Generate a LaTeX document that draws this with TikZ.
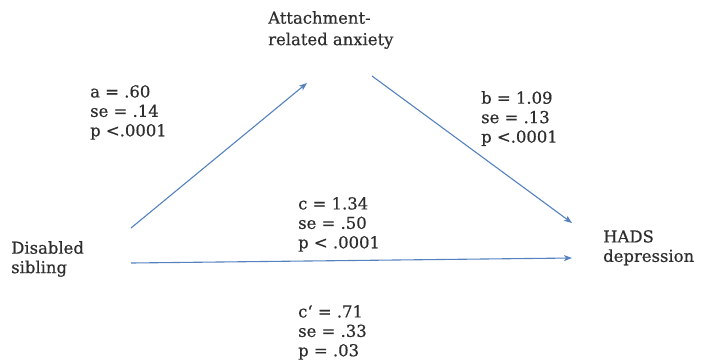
\documentclass[tikz,border=0pt]{standalone}
\usepackage{fontspec}
\setmainfont{DejaVu Serif}[FakeBold=0.6]
\usetikzlibrary{arrows.meta}
\definecolor{arrowblue}{RGB}{84,130,190}
\begin{document}
\begin{tikzpicture}[x=1bp,y=-1bp,
  lbl/.style={anchor=north west,align=left,inner sep=0pt,font=\fontsize{16.5}{19.5}\selectfont,text=black!82},
  conn/.style={draw=arrowblue,line width=1.1bp,-{Stealth[length=8bp,width=6bp,inset=2bp]}}]
\useasboundingbox (0,0) rectangle (701,361);
\node[lbl,font=\fontsize{16.5}{21.5}\selectfont] (att) at (268,11) {Attachment-\\related anxiety};
\node[lbl] (dis) at (11,241) {Disabled\\sibling};
\node[lbl] (hads) at (603,230) {HADS\\depression};
\node[lbl] (la) at (90,85) {a = .60\\se = .14\\p <.0001};
\node[lbl] (lb) at (481,91) {b = 1.09\\se = .13\\p <.0001};
\node[lbl] (lc) at (298,197) {c = 1.34\\se = .50\\p < .0001};
\node[lbl] (lcp) at (298,305) {c‘ = .71\\se = .33\\p = .03};
\coordinate (a0) at (131,228);
\coordinate (a1) at (307,83);
\coordinate (b0) at (372,76);
\coordinate (b1) at (572,223);
\coordinate (c0) at (131,263);
\coordinate (c1) at (572,258);
\draw[conn] (a0) -- (a1);
\draw[conn] (b0) -- (b1);
\draw[conn] (c0) -- (c1);
\end{tikzpicture}
\end{document}
